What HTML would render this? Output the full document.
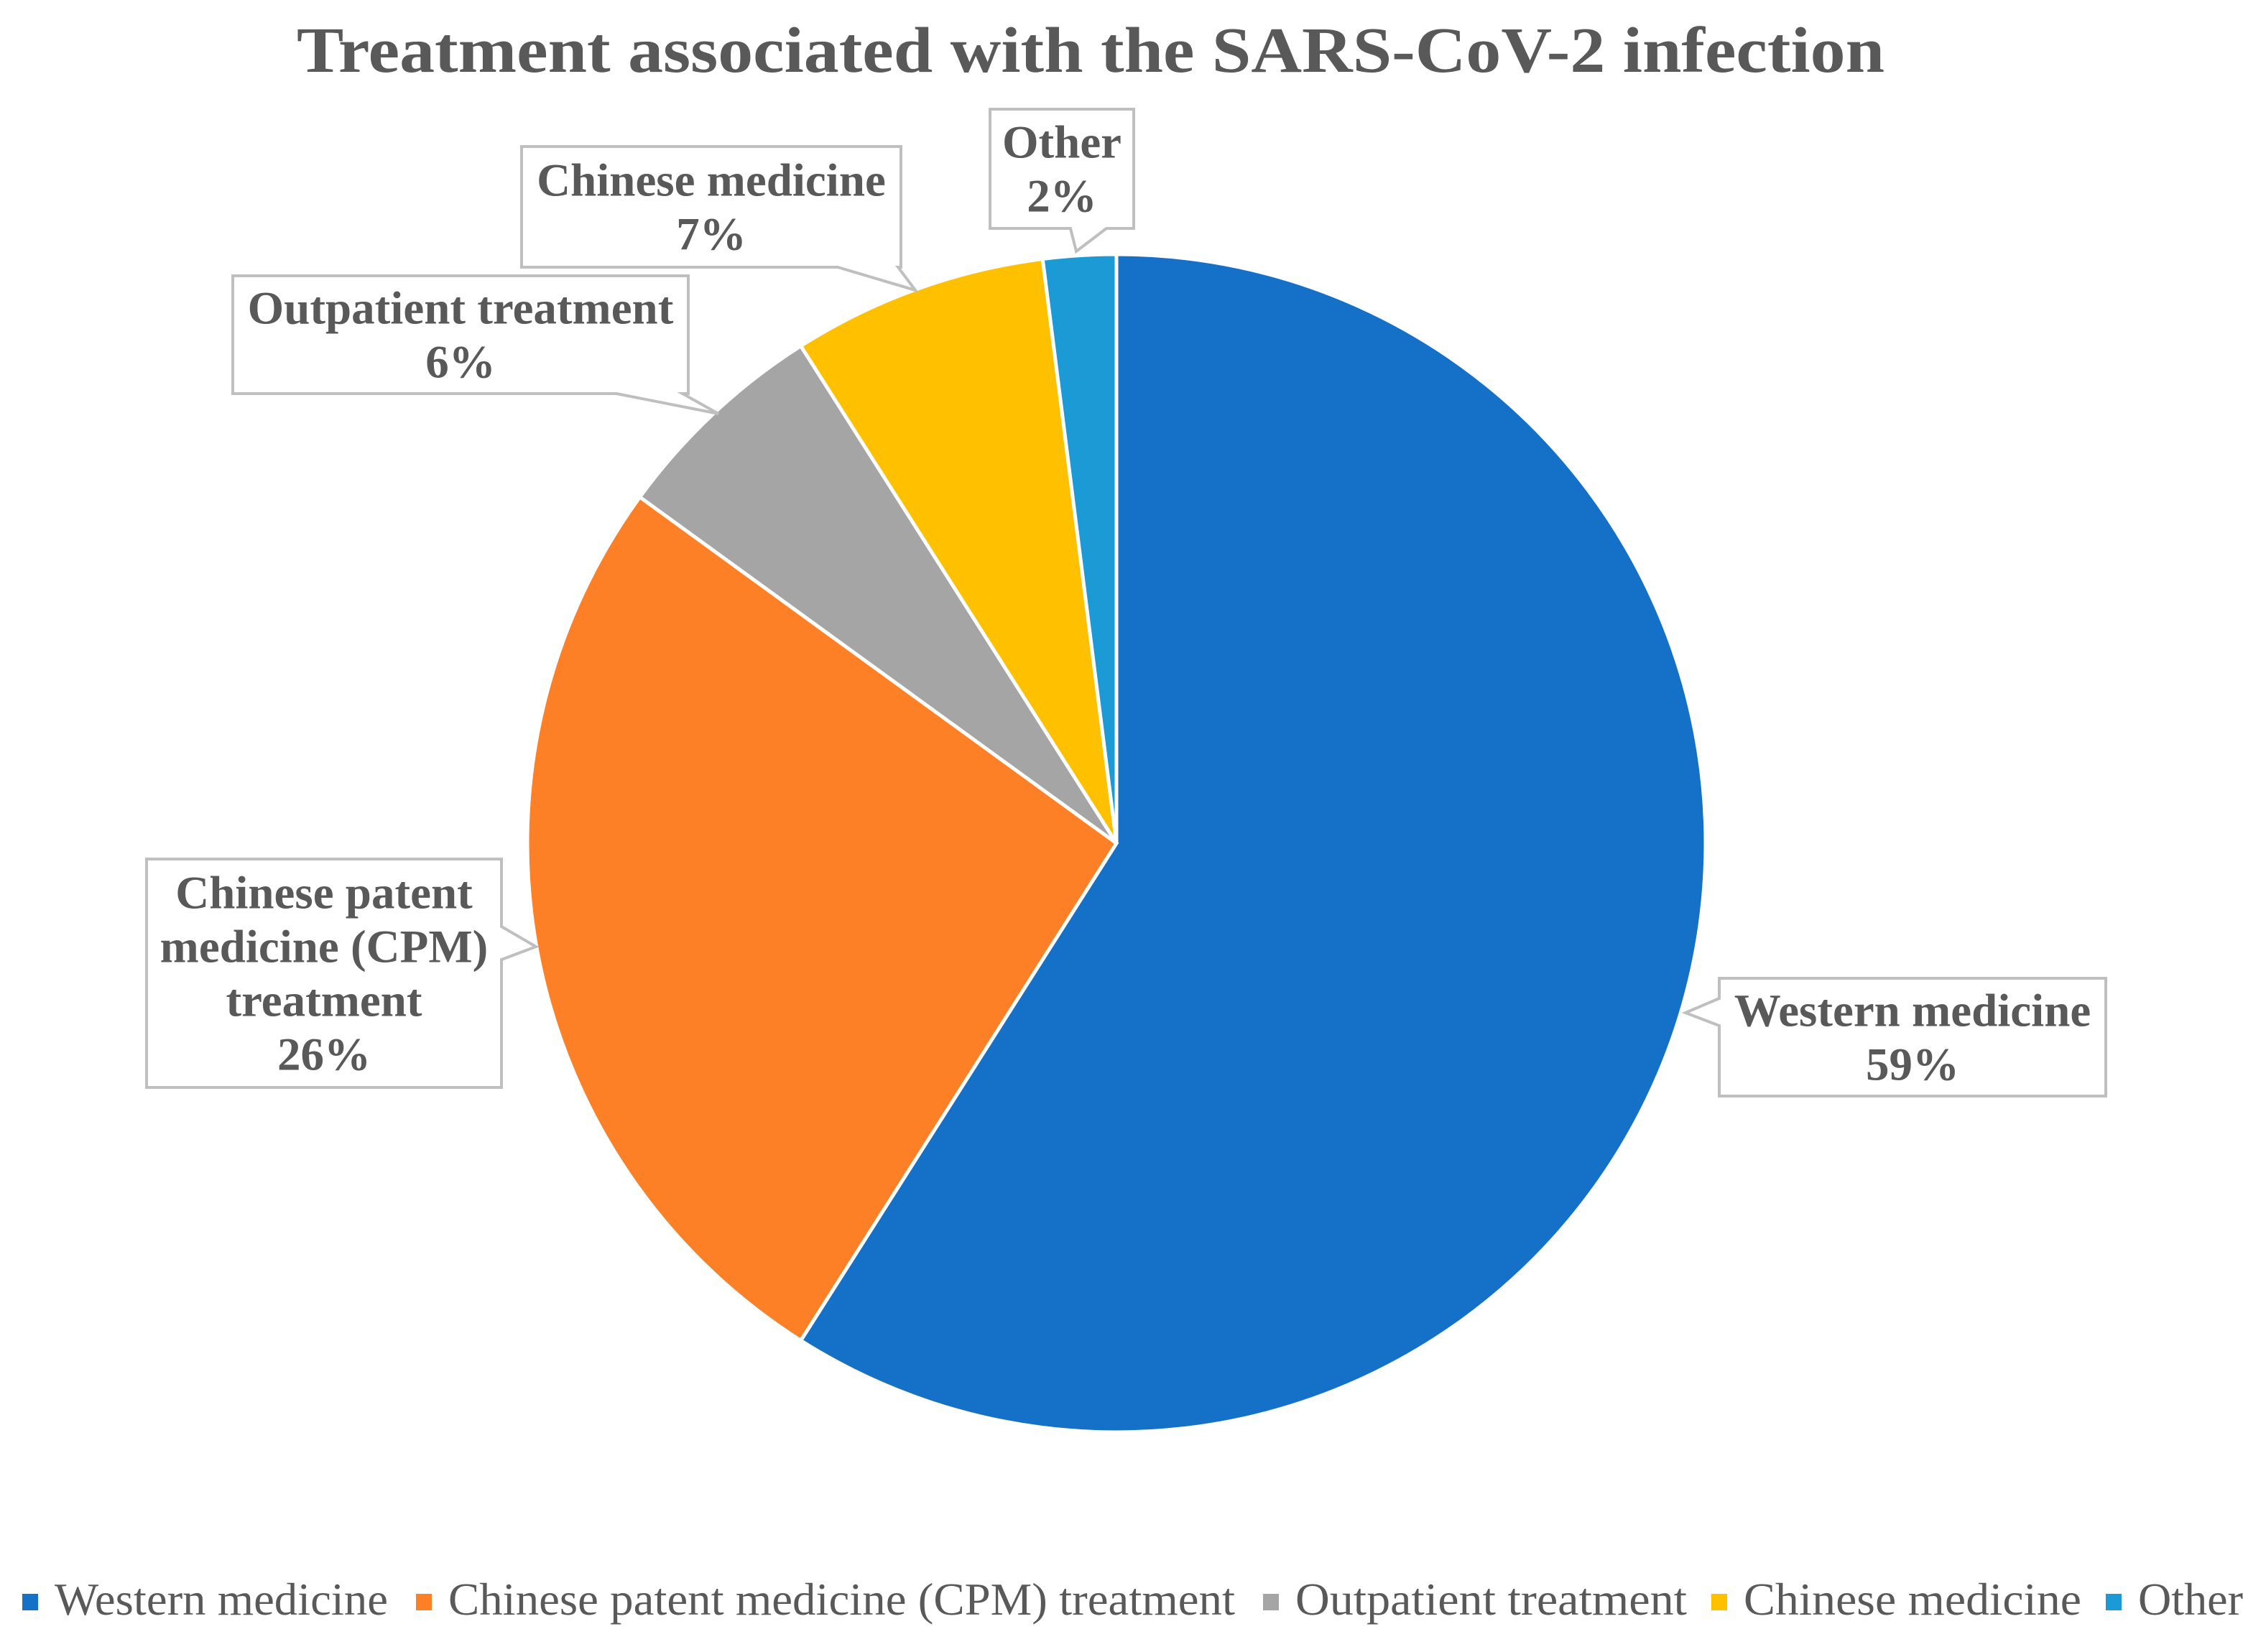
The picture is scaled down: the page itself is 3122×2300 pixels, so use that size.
<!DOCTYPE html>
<html><head><meta charset="utf-8"><style>
html,body{margin:0;padding:0;background:#fff}
svg text{font-family:"Liberation Serif",serif}
</style></head><body>
<svg id="chart" width="3122" height="2295" viewBox="0 0 3122 2295" xmlns="http://www.w3.org/2000/svg">
<text x="1518" y="100" text-anchor="middle" font-size="90" font-weight="bold" fill="#595959" textLength="2210" lengthAdjust="spacingAndGlyphs">Treatment associated with the SARS-CoV-2 infection</text>
<g id="slices"></g><g id="labels"></g><g id="legend"></g>
</svg>
<script>
const categories = ["Western medicine","Chinese patent medicine (CPM) treatment","Outpatient treatment","Chinese medicine","Other"];
const values = [59,26,6,7,2];
const colors = ["#1570C8","#FD7F26","#A5A5A5","#FFC000","#1C9AD6"];
const labelLines = [["Western medicine"],["Chinese patent","medicine (CPM)","treatment"],["Outpatient treatment"],["Chinese medicine"],["Other"]];
const NS="http://www.w3.org/2000/svg";
const cx=1554, cy=1174, R=820;
const total=values.reduce((a,b)=>a+b,0);
function pt(frac,r){const a=frac*2*Math.PI;return [cx+r*Math.sin(a),cy-r*Math.cos(a)];}
const sg=document.getElementById('slices');
let acc=0;
values.forEach((v,i)=>{
  const f0=acc/total, f1=(acc+v)/total; acc+=v;
  const p0=pt(f0,R), p1=pt(f1,R);
  const large=(f1-f0)>0.5?1:0;
  const p=document.createElementNS(NS,'path');
  p.setAttribute('d',`M${cx},${cy} L${p0[0]},${p0[1]} A${R},${R} 0 ${large} 1 ${p1[0]},${p1[1]} Z`);
  p.setAttribute('fill',colors[i]);p.setAttribute('stroke','#fff');p.setAttribute('stroke-width','5');
  
  
  sg.appendChild(p);
});
const boxes=[
 {x:2393,y:1362,w:538,h:164,side:'left',tip:[2346,1410],b0:1390,b1:1428},
 {x:204,y:1196,w:494,h:318,side:'right',tip:[746,1318],b0:1290,b1:1336},
 {x:324,y:384,w:634,h:164,side:'bottom',tip:[1000,576],b0:858,b1:950},
 {x:726,y:204,w:528,h:168,side:'bottom',tip:[1274,404],b0:1166,b1:1250},
 {x:1378,y:152,w:200,h:166,side:'bottom',tip:[1498,350],b0:1490,b1:1540}
];
const lg=document.getElementById('labels');
boxes.forEach((b,i)=>{
  let d;
  const {x,y,w,h}=b, r=x+w, btm=y+h;
  if(b.side==='left') d=`M${x},${y} H${r} V${btm} H${x} V${b.b1} L${b.tip[0]},${b.tip[1]} L${x},${b.b0} Z`;
  else if(b.side==='right') d=`M${x},${y} H${r} V${b.b0} L${b.tip[0]},${b.tip[1]} L${r},${b.b1} V${btm} H${x} Z`;
  else d=`M${x},${y} H${r} V${btm} H${b.b1} L${b.tip[0]},${b.tip[1]} L${b.b0},${btm} H${x} Z`;
  const p=document.createElementNS(NS,'path');
  p.setAttribute('d',d);p.setAttribute('fill','#fff');p.setAttribute('stroke','#BFBFBF');p.setAttribute('stroke-width','4');
  
  
  lg.appendChild(p);
  const lines=labelLines[i].concat([values[i]+'%']);
  const lh=75, startY=y+h/2-(lines.length-1)*lh/2+22;
  lines.forEach((s,j)=>{
    const t=document.createElementNS(NS,'text');
    t.setAttribute('x',x+w/2);t.setAttribute('y',startY+j*lh);
    t.setAttribute('text-anchor','middle');t.setAttribute('font-size','65');t.setAttribute('font-weight','bold');t.setAttribute('fill','#595959');
    t.textContent=s;
    
    
    lg.appendChild(t);
  });
});
const legX=[31,579,1758,2382,2931];
const legW=[464,1095,545,470,146];
const leg=document.getElementById('legend');
categories.forEach((c,i)=>{
  const g=document.createElementNS(NS,'g');
  
  
  const s=document.createElementNS(NS,'rect');
  s.setAttribute('x',legX[i]);s.setAttribute('y',2219);s.setAttribute('width',22);s.setAttribute('height',23);s.setAttribute('fill',colors[i]);
  const t=document.createElementNS(NS,'text');
  t.setAttribute('x',legX[i]+45);t.setAttribute('y',2248);t.setAttribute('font-size','64');t.setAttribute('fill','#595959');
  t.setAttribute('textLength',legW[i]);t.setAttribute('lengthAdjust','spacingAndGlyphs');
  t.textContent=c;
  g.appendChild(s);g.appendChild(t);leg.appendChild(g);
});
</script>
</body></html>
